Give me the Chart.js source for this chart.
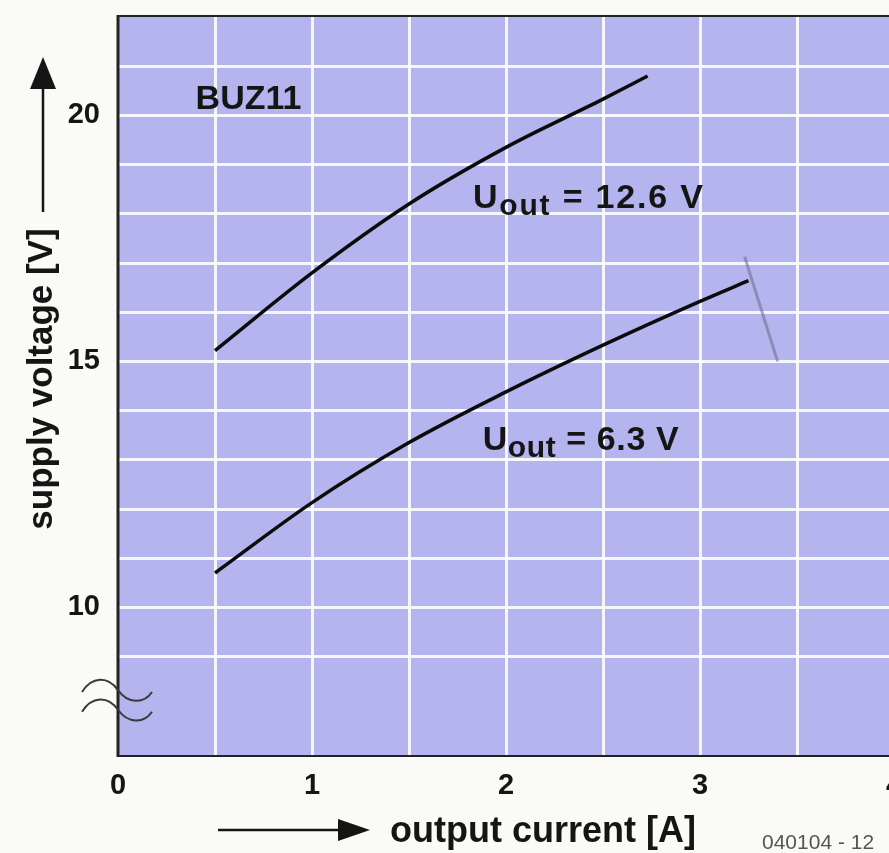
<!DOCTYPE html>
<html>
<head>
<meta charset="utf-8">
<title>BUZ11 supply voltage</title>
<script src="https://cdn.jsdelivr.net/npm/chart.js@4.4.1/dist/chart.umd.min.js"></script>
<style>
  html, body { margin: 0; padding: 0; background: #fafaf7; overflow: hidden; }
  #wrap { width: 889px; height: 853px; overflow: hidden; }
</style>
</head>
<body>
<div id="wrap"><canvas id="buzChart" width="910" height="853"></canvas></div>
<script>
// Supply voltage needed for a given output current, two output voltages
const currentHigh = [0.5, 1.0, 1.5, 2.0, 2.5, 2.73];
const voltageHigh = [15.22, 16.8, 18.2, 19.35, 20.33, 20.8];
const currentLow = [0.5, 1.0, 1.5, 2.0, 2.5, 3.0, 3.25];
const voltageLow = [10.7, 12.13, 13.35, 14.38, 15.33, 16.22, 16.64];

// pencil stroke crossing the end of the lower curve
const strokeCurrent = [3.23, 3.4];
const strokeVoltage = [17.13, 15.0];

const xTickLabels = [0, 1, 2, 3, 4];
const yTickLabels = [10, 15, 20];

// text anchors in data units (left edge, baseline)
const curveLabels = [
    { x: 1.83, y: 18.11, text: ' = 12.6 V', spacing: 1.8 },
    { x: 1.88, y: 13.19, text: ' = 6.3 V', spacing: 0.6 }
];
const typeLabel = { x: 0.40, y: 20.14, text: 'BUZ11' };

const FONT = '"Liberation Sans", Arial, Helvetica, sans-serif';
const INK = '#151515';
const GRID = 'rgba(255, 255, 255, 0.88)';

function toPoints(xs, ys) {
    return xs.map((x, i) => ({ x: x, y: ys[i] }));
}

// Lavender plot field
const plotBackground = {
    id: 'plotBackground',
    beforeDraw(chart) {
        const { ctx, chartArea: a } = chart;
        ctx.save();
        ctx.fillStyle = '#b4b5ee';
        ctx.fillRect(a.left, a.top, a.right - a.left, a.bottom - a.top);
        ctx.restore();
    }
};

// Frame, axis arrows, titles, axis break and curve labels
const decorations = {
    id: 'decorations',
    afterDraw(chart) {
        const { ctx, chartArea: a, scales } = chart;
        const xs = scales.x, ys = scales.y;
        ctx.save();

        // frame
        ctx.strokeStyle = '#222';
        ctx.lineWidth = 2;
        ctx.beginPath();
        ctx.moveTo(a.left, a.top - 1);
        ctx.lineTo(a.right, a.top - 1);
        ctx.moveTo(a.left, a.bottom + 1);
        ctx.lineTo(a.right, a.bottom + 1);
        ctx.stroke();
        ctx.lineWidth = 3;
        ctx.beginPath();
        ctx.moveTo(a.left, a.top - 2);
        ctx.lineTo(a.left, a.bottom + 2);
        ctx.stroke();

        // axis break marks on the voltage axis
        ctx.strokeStyle = '#3a3a3a';
        ctx.lineWidth = 2;
        [8.32, 7.92].forEach(v => {
            const py = ys.getPixelForValue(v);
            const x0 = a.left - 36;
            ctx.beginPath();
            ctx.moveTo(x0, py + 2);
            ctx.bezierCurveTo(x0 + 10, py - 14, x0 + 26, py - 14, x0 + 36, py);
            ctx.bezierCurveTo(x0 + 46, py + 14, x0 + 62, py + 14, x0 + 70, py + 2);
            ctx.stroke();
        });

        // y axis arrow and title
        ctx.fillStyle = INK;
        ctx.strokeStyle = INK;
        ctx.lineWidth = 2.5;
        ctx.beginPath();
        ctx.moveTo(43, 212);
        ctx.lineTo(43, 84);
        ctx.stroke();
        ctx.beginPath();
        ctx.moveTo(43, 57);
        ctx.lineTo(56, 89);
        ctx.lineTo(30, 89);
        ctx.closePath();
        ctx.fill();

        ctx.save();
        ctx.translate(52, 379);
        ctx.rotate(-Math.PI / 2);
        ctx.font = 'bold 35px ' + FONT;
        ctx.textAlign = 'center';
        ctx.textBaseline = 'alphabetic';
        ctx.fillText('supply voltage [V]', 0, 0);
        ctx.restore();

        // x axis arrow and title
        ctx.beginPath();
        ctx.moveTo(218, 830);
        ctx.lineTo(345, 830);
        ctx.stroke();
        ctx.beginPath();
        ctx.moveTo(370, 830);
        ctx.lineTo(338, 819);
        ctx.lineTo(338, 841);
        ctx.closePath();
        ctx.fill();

        ctx.font = 'bold 36px ' + FONT;
        ctx.textAlign = 'left';
        ctx.textBaseline = 'alphabetic';
        ctx.fillText('output current [A]', 390, 842);

        ctx.fillStyle = '#555';
        ctx.font = '21px ' + FONT;
        ctx.fillText('040104 - 12', 762, 849);

        // device type and curve labels
        ctx.fillStyle = INK;
        ctx.font = 'bold 34px ' + FONT;
        ctx.fillText(typeLabel.text, xs.getPixelForValue(typeLabel.x), ys.getPixelForValue(typeLabel.y));

        curveLabels.forEach(l => {
            let px = xs.getPixelForValue(l.x);
            const py = ys.getPixelForValue(l.y);
            ctx.letterSpacing = l.spacing + 'px';
            ctx.font = 'bold 34px ' + FONT;
            ctx.fillText('U', px, py);
            px += ctx.measureText('U').width;
            ctx.font = 'bold 30px ' + FONT;
            ctx.fillText('out', px, py + 7);
            px += ctx.measureText('out').width;
            ctx.font = 'bold 34px ' + FONT;
            ctx.fillText(l.text, px, py);
        });
        ctx.letterSpacing = '0px';

        ctx.restore();
    }
};

new Chart(document.getElementById('buzChart'), {
    type: 'line',
    data: {
        datasets: [{
            label: 'Uout = 12.6 V',
            data: toPoints(currentHigh, voltageHigh),
            borderColor: '#0b0b0b',
            borderWidth: 3.5,
            cubicInterpolationMode: 'monotone',
            pointRadius: 0,
            fill: false
        }, {
            label: 'Uout = 6.3 V',
            data: toPoints(currentLow, voltageLow),
            borderColor: '#0b0b0b',
            borderWidth: 3.5,
            cubicInterpolationMode: 'monotone',
            pointRadius: 0,
            fill: false
        }, {
            label: 'stroke',
            data: toPoints(strokeCurrent, strokeVoltage),
            borderColor: 'rgba(105, 105, 135, 0.55)',
            borderWidth: 3,
            pointRadius: 0,
            fill: false
        }]
    },
    options: {
        responsive: false,
        animation: false,
        devicePixelRatio: 1,
        layout: { padding: { top: 17, right: 16, left: 0, bottom: 0 } },
        plugins: {
            legend: { display: false },
            tooltip: { enabled: false }
        },
        scales: {
            x: {
                type: 'linear',
                min: 0,
                max: 4,
                afterFit(scale) {
                    scale.height = 98;
                    scale.paddingLeft = 0;
                    scale.paddingRight = 0;
                },
                border: { display: false },
                grid: {
                    drawTicks: false,
                    lineWidth: 3,
                    color: ctx => (ctx.tick && (ctx.tick.value === 0 || ctx.tick.value === 4)) ? 'transparent' : GRID
                },
                ticks: {
                    stepSize: 0.5,
                    autoSkip: false,
                    maxRotation: 0,
                    padding: 14,
                    color: INK,
                    font: { family: FONT, size: 29, weight: 'bold' },
                    callback: v => xTickLabels.includes(v) ? String(v) : ''
                }
            },
            y: {
                type: 'linear',
                min: 7,
                max: 22,
                afterFit(scale) {
                    scale.width = 118;
                    scale.paddingTop = 0;
                    scale.paddingBottom = 0;
                },
                border: { display: false },
                grid: {
                    drawTicks: false,
                    lineWidth: 3,
                    color: ctx => (ctx.tick && [7, 8, 22].includes(ctx.tick.value)) ? 'transparent' : GRID
                },
                ticks: {
                    stepSize: 1,
                    autoSkip: false,
                    padding: 18,
                    color: INK,
                    font: { family: FONT, size: 29, weight: 'bold' },
                    callback: v => yTickLabels.includes(v) ? String(v) : ''
                }
            }
        }
    },
    plugins: [plotBackground, decorations]
});
</script>
</body>
</html>
